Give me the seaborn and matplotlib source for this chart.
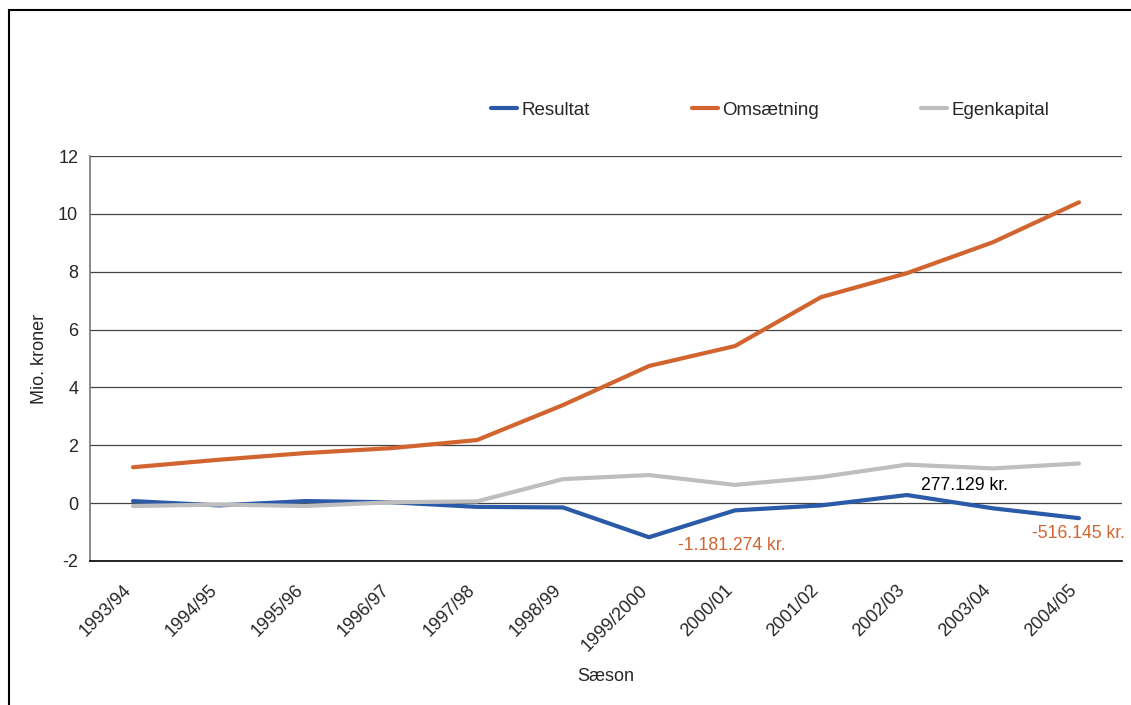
import numpy as np
import pandas as pd
import matplotlib.pyplot as plt
import seaborn as sns
from matplotlib.patches import Rectangle

# data (mio. kroner)
seasons = ["1993/94", "1994/95", "1995/96", "1996/97", "1997/98", "1998/99",
           "1999/2000", "2000/01", "2001/02", "2002/03", "2003/04", "2004/05"]
resultat = [0.07, -0.08, 0.07, 0.03, -0.13, -0.15, -1.18, -0.25, -0.08, 0.28, -0.18, -0.52]
omsaetning = [1.24, 1.5, 1.73, 1.9, 2.18, 3.39, 4.74, 5.43, 7.12, 7.95, 9.02, 10.4]
egenkapital = [-0.1, -0.05, -0.1, 0.03, 0.06, 0.83, 0.97, 0.63, 0.9, 1.33, 1.2, 1.37]

notes = ["-1.181.274 kr.", "277.129 kr.", "-516.145 kr."]
note_idx = [6, 9, 11]

df = pd.DataFrame({"Sæson": seasons, "Resultat": resultat,
                   "Omsætning": omsaetning, "Egenkapital": egenkapital})
long = df.melt(id_vars="Sæson", var_name="Serie", value_name="Værdi")
long["x"] = long["Sæson"].map({s: i for i, s in enumerate(seasons)})

sns.set_style("white")
plt.rcParams['font.family'] = ['Liberation Sans', 'DejaVu Sans']
plt.rcParams['axes.unicode_minus'] = False

fig = plt.figure(figsize=(11.31, 7.05), dpi=100)
ax = fig.add_axes([0.0796, 0.2043, 0.9124, 0.5744])

colors = {"Resultat": "#2A5AA8", "Omsætning": "#D2652F", "Egenkapital": "#BEBEBE"}
sns.lineplot(data=long, x="x", y="Værdi", hue="Serie", palette=colors,
             linewidth=3.0, ax=ax, legend=True)

ax.set_xlim(-0.5, 11.5)
ax.set_ylim(-2, 12)
ax.set_yticks(range(-2, 13, 2))
ax.yaxis.grid(True, color="#444444", linewidth=0.9)
ax.set_axisbelow(True)
ax.set_xticks(np.arange(-0.5, 12, 1))
ax.set_xticklabels([])
# labels sit a bit left of the category centre, like the original
ax.set_xticks(np.arange(12) - 0.12, minor=True)
ax.set_xticklabels(seasons, minor=True, rotation=45, ha="right",
                   rotation_mode="anchor", fontsize=13)
ax.tick_params(axis="x", which="minor", length=0, pad=15)
ax.tick_params(axis="x", which="major", length=5, width=1, direction="out", color="black")
ax.tick_params(axis="y", length=5, width=1, direction="out", color="#777777", labelsize=13)
for s in ["top", "right"]:
    ax.spines[s].set_visible(False)
ax.spines["left"].set_color("#777777")
ax.spines["left"].set_linewidth(1.2)
ax.spines["bottom"].set_color("black")
ax.spines["bottom"].set_linewidth(1.2)

ax.set_xlabel("Sæson", fontsize=13, labelpad=10)
ax.set_ylabel("Mio. kroner", fontsize=13, labelpad=7)

# annotations on Resultat
offsets = [(21, -6), (10, 7), (-34, -11)]
note_colors = ["#D2652F", "black", "#D2652F"]
for txt, i, off, c in zip(notes, note_idx, offsets, note_colors):
    ax.annotate(txt, xy=(i, resultat[i]), xytext=off, textcoords="offset points",
                ha="left", va="center", fontsize=12.7, color=c, annotation_clip=False)

ax.legend(loc="center", bbox_to_anchor=(0.681, 0.844), bbox_transform=fig.transFigure,
          ncol=3, frameon=False, fontsize=13.5, handlelength=1.4, handletextpad=0.25,
          columnspacing=5.4)

fig.patches.append(Rectangle((0.008, -0.01), 1.0, 0.996, transform=fig.transFigure,
                             fill=False, edgecolor="black", linewidth=1.5))

fig.savefig("out.png", dpi=100)
